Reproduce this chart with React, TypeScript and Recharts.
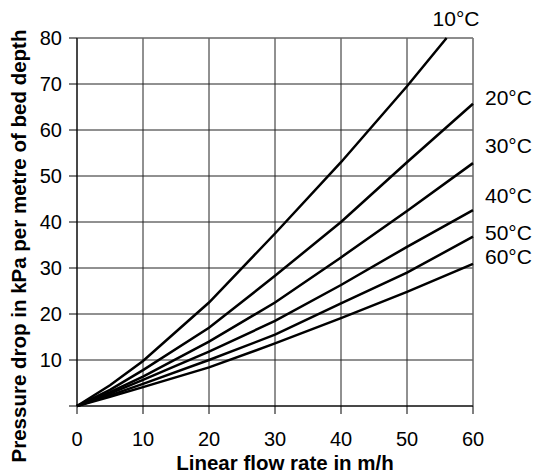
import { LineChart, Line, XAxis, YAxis, CartesianGrid, ReferenceLine } from 'recharts';

// flow rate in m/h; the 10°C curve leaves the top of the chart at ~56
const flow = [0, 5, 10, 20, 30, 40, 50, 60];
const flow10 = [0, 5, 10, 20, 30, 40, 50, 56];
const temps = ['10°C', '20°C', '30°C', '40°C', '50°C', '60°C'];

// pressure drop in kPa per metre of bed depth
const drop10 = [0, 4.5, 9.8, 22.5, 37.5, 53, 69.5, 80];
const drop20 = [0, 3.5, 7.8, 17, 28.3, 40, 53, 65.7];
const drop30 = [0, 3, 6.4, 14, 22.5, 32.3, 42.4, 52.8];
const drop40 = [0, 2.7, 5.7, 11.8, 18.5, 26.3, 34.6, 42.6];
const drop50 = [0, 2.3, 4.8, 10, 15.5, 22.3, 29, 36.8];
const drop60 = [0, 2, 4.1, 8.4, 13.6, 19.1, 24.8, 30.9];

const xTicks = [0, 10, 20, 30, 40, 50, 60];
const yTicks = [0, 10, 20, 30, 40, 50, 60, 70, 80];

// label nudges (px) relative to each curve's last point
const labelDx = [-14, 12, 12, 12, 12, 12];
const labelDy = [-12, 1, -10, -7, 3, 0];

const FONT = '"Liberation Sans", Arial, sans-serif';

const toRows = (xs: number[], ys: number[]) => xs.map((x, i) => ({ flow: x, drop: ys[i] }));

const series = [
  toRows(flow10, drop10),
  toRows(flow, drop20),
  toRows(flow, drop30),
  toRows(flow, drop40),
  toRows(flow, drop50),
  toRows(flow, drop60),
];

const makeEndLabel = (idx: number, last: number) => (props: any) => {
  const { cx, cy, index } = props;
  if (index !== last) return <g key={`d-${idx}-${index}`} />;
  return (
    <text
      key={`d-${idx}-${index}`}
      x={cx + labelDx[idx]}
      y={cy + labelDy[idx]}
      fontSize={21}
      fontFamily={FONT}
      fill="#000"
    >
      {temps[idx]}
    </text>
  );
};

const YTitle = () => (
  <text
    x={26}
    y={246}
    transform="rotate(-90, 26, 246)"
    textAnchor="middle"
    fontSize={20.5}
    fontWeight="bold"
    fontFamily={FONT}
    fill="#000"
  >
    Pressure drop in kPa per metre of bed depth
  </text>
);

const XTitle = () => (
  <text
    x={285}
    y={470}
    textAnchor="middle"
    fontSize={20.5}
    fontWeight="bold"
    fontFamily={FONT}
    fill="#000"
  >
    Linear flow rate in m/h
  </text>
);

export default function App() {
  return (
    <div style={{ position: 'absolute', left: 0, top: 0, background: '#fff' }}>
      <LineChart
        width={539}
        height={473}
        margin={{ top: 38, right: 66, bottom: 0, left: 0 }}
        style={{ fontFamily: FONT }}
      >
        <CartesianGrid stroke="#222" strokeWidth={1} />
        <XAxis
          dataKey="flow"
          type="number"
          domain={[0, 60]}
          ticks={xTicks}
          height={67}
          stroke="#000"
          tickSize={8}
          tickMargin={18}
          tick={{ fontSize: 20, fill: '#000' }}
          label={<XTitle />}
        />
        <YAxis
          type="number"
          domain={[0, 80]}
          ticks={yTicks}
          width={77}
          stroke="#000"
          tickSize={8}
          tickMargin={7}
          tick={{ fontSize: 20, fill: '#000' }}
          tickFormatter={(v: number) => (v === 0 ? '' : String(v))}
          label={<YTitle />}
        />
        <ReferenceLine y={80} stroke="#888" />
        <ReferenceLine x={60} stroke="#888" />
        {series.map((rows, i) => (
          <Line
            key={temps[i]}
            data={rows}
            dataKey="drop"
            name={temps[i]}
            type="linear"
            stroke="#000"
            strokeWidth={2.5}
            dot={makeEndLabel(i, rows.length - 1)}
            activeDot={false}
            isAnimationActive={false}
          />
        ))}
      </LineChart>
    </div>
  );
}
